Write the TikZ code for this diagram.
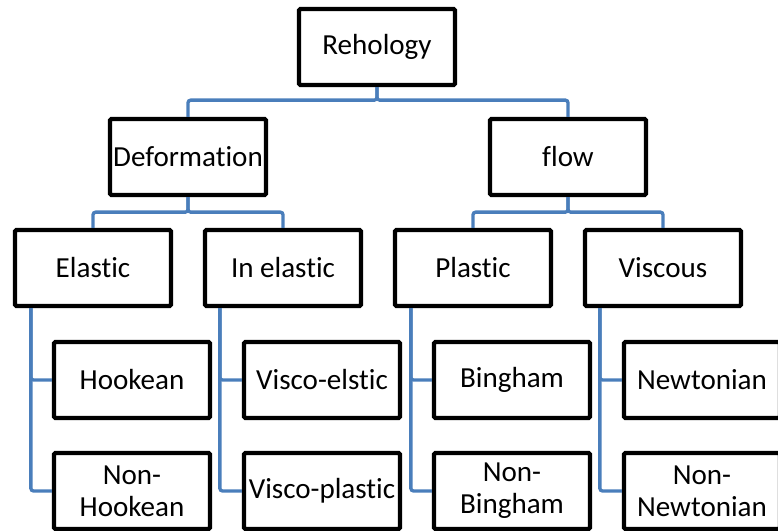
\documentclass[tikz,border=0pt]{standalone}
\usepackage{fontspec}
\setmainfont[Ligatures=NoCommon]{Carlito}
\usepackage{tikz}
\usetikzlibrary{positioning}
\definecolor{linkblue}{RGB}{74,126,187}
\tikzset{
x=0.75pt, y=-0.75pt, % one unit is one pixel of the drawing
box/.style={draw, line width=3.2pt, rounded corners=1pt, minimum width=117pt, minimum height=57pt, inner sep=0pt, align=center, font=\fontsize{21.8}{24}\selectfont}, % every box of the tree
link/.style={draw=linkblue, line width=2.5pt, rounded corners=2pt}, % the blue lines
node distance=142.5pt, % distance between two boxes side by side
}
\begin{document}
\begin{tikzpicture}
        \useasboundingbox (0,0) rectangle (778,531);
        \clip (0,0) rectangle (778,531);

        \node[box] (root) at (377,47) {Rehology};
        \node[box] (deform) at (188,157) {Deformation};
        \node[box, right of=deform, node distance=285pt] (flow) {flow};

        \node[box] (elastic) at (93,268) {Elastic};
        \node[box, right of=elastic] (inelastic) {In elastic};
        \node[box, right of=inelastic] (plastic) {Plastic};
        \node[box, right of=plastic] (viscous) {Viscous};

        \node[box] (hook) at (132,380) {Hookean};
        \node[box, right of=hook] (viscoel) {Visco-elstic};
        \node[box, right of=viscoel] (bingham) {Bingham};
        \node[box, right of=bingham] (newton) {Newtonian};

        \node[box, below of=hook, node distance=83.25pt] (nonhook) {Non-\\Hookean};
        \node[box, below of=viscoel, node distance=83.25pt] (viscopl) {Visco-plastic};
        \node[box, below of=bingham, node distance=83.25pt] (nonbing) {Non-\\Bingham};
        \node[box, below of=newton, node distance=83.25pt] (nonnewt) {Non-\\Newtonian};

        % tree lines
        \draw[link] (root.south) -- ++(0,13) -| (deform.north);
        \draw[link] (root.south) -- ++(0,13) -| (flow.north);
        \draw[link] (deform.south) -- ++(0,15) -| (elastic.north);
        \draw[link] (deform.south) -- ++(0,15) -| (inelastic.north);
        \draw[link] (flow.south) -- ++(0,15) -| (plastic.north);
        \draw[link] (flow.south) -- ++(0,15) -| (viscous.north);

        % side lines
        \draw[link] (elastic.south west) ++(18,0) |- (hook.west);
        \draw[link] (elastic.south west) ++(18,0) |- (nonhook.west);
        \draw[link] (inelastic.south west) ++(17,0) |- (viscoel.west);
        \draw[link] (inelastic.south west) ++(17,0) |- (viscopl.west);
        \draw[link] (plastic.south west) ++(18,0) |- (bingham.west);
        \draw[link] (plastic.south west) ++(18,0) |- (nonbing.west);
        \draw[link] (viscous.south west) ++(17,0) |- (newton.west);
        \draw[link] (viscous.south west) ++(17,0) |- (nonnewt.west);
      \end{tikzpicture}
\end{document}
